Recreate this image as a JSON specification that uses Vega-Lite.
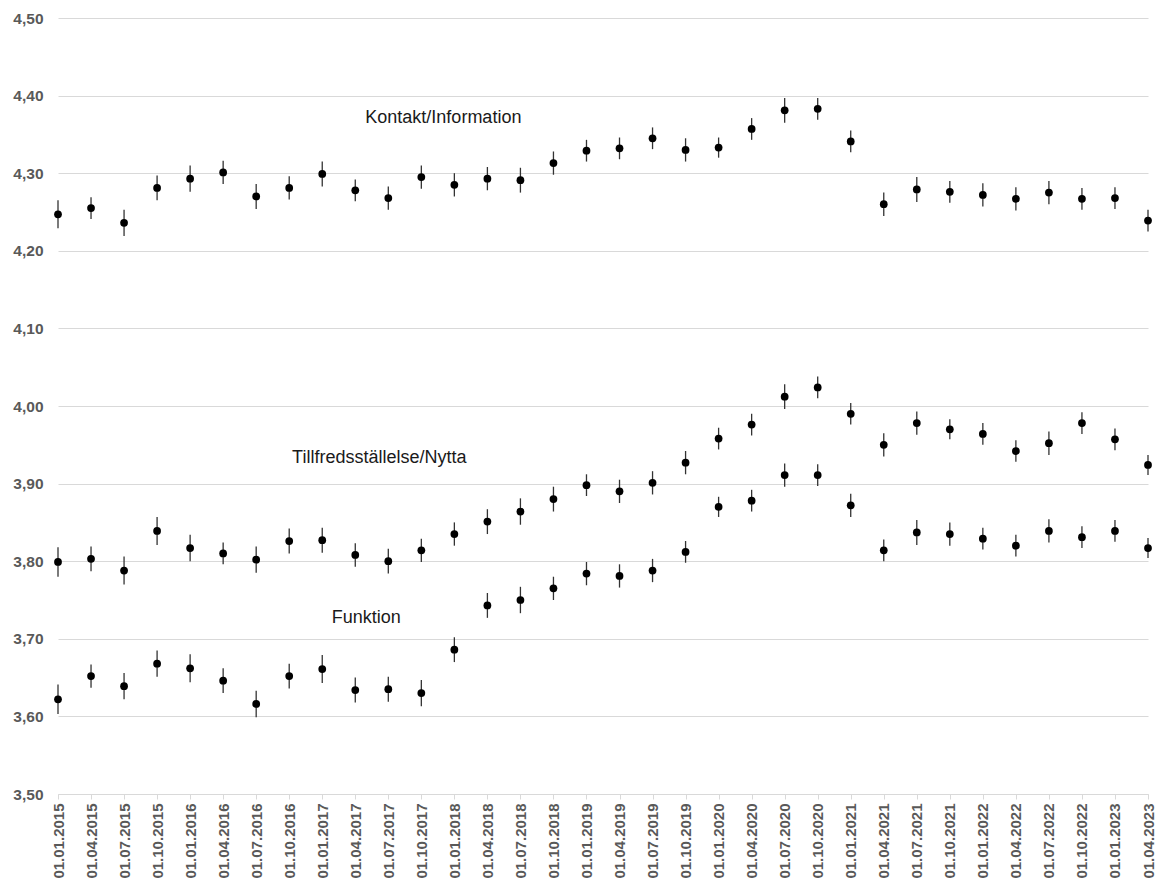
{
  "$schema": "https://vega.github.io/schema/vega-lite/v6.json",
  "width": 1090,
  "height": 776,
  "autosize": "none",
  "padding": {"left": 58, "top": 18, "right": 9, "bottom": 91},
  "background": "white",
  "config": {
    "view": {"stroke": null},
    "font": "Liberation Sans"
  },
  "datasets": {
    "points": [
      {"d": "01.01.2015", "s": "K", "v": 4.247, "e": 0.018},
      {"d": "01.04.2015", "s": "K", "v": 4.255, "e": 0.014},
      {"d": "01.07.2015", "s": "K", "v": 4.236, "e": 0.017},
      {"d": "01.10.2015", "s": "K", "v": 4.281, "e": 0.016},
      {"d": "01.01.2016", "s": "K", "v": 4.293, "e": 0.017},
      {"d": "01.04.2016", "s": "K", "v": 4.301, "e": 0.015},
      {"d": "01.07.2016", "s": "K", "v": 4.270, "e": 0.016},
      {"d": "01.10.2016", "s": "K", "v": 4.281, "e": 0.015},
      {"d": "01.01.2017", "s": "K", "v": 4.299, "e": 0.016},
      {"d": "01.04.2017", "s": "K", "v": 4.278, "e": 0.014},
      {"d": "01.07.2017", "s": "K", "v": 4.268, "e": 0.015},
      {"d": "01.10.2017", "s": "K", "v": 4.295, "e": 0.015},
      {"d": "01.01.2018", "s": "K", "v": 4.285, "e": 0.015},
      {"d": "01.04.2018", "s": "K", "v": 4.293, "e": 0.015},
      {"d": "01.07.2018", "s": "K", "v": 4.291, "e": 0.016},
      {"d": "01.10.2018", "s": "K", "v": 4.313, "e": 0.015},
      {"d": "01.01.2019", "s": "K", "v": 4.329, "e": 0.014},
      {"d": "01.04.2019", "s": "K", "v": 4.332, "e": 0.014},
      {"d": "01.07.2019", "s": "K", "v": 4.345, "e": 0.014},
      {"d": "01.10.2019", "s": "K", "v": 4.330, "e": 0.015},
      {"d": "01.01.2020", "s": "K", "v": 4.333, "e": 0.013},
      {"d": "01.04.2020", "s": "K", "v": 4.357, "e": 0.014},
      {"d": "01.07.2020", "s": "K", "v": 4.381, "e": 0.016},
      {"d": "01.10.2020", "s": "K", "v": 4.383, "e": 0.014},
      {"d": "01.01.2021", "s": "K", "v": 4.341, "e": 0.014},
      {"d": "01.04.2021", "s": "K", "v": 4.260, "e": 0.015},
      {"d": "01.07.2021", "s": "K", "v": 4.279, "e": 0.016},
      {"d": "01.10.2021", "s": "K", "v": 4.276, "e": 0.014},
      {"d": "01.01.2022", "s": "K", "v": 4.272, "e": 0.015},
      {"d": "01.04.2022", "s": "K", "v": 4.267, "e": 0.015},
      {"d": "01.07.2022", "s": "K", "v": 4.275, "e": 0.015},
      {"d": "01.10.2022", "s": "K", "v": 4.267, "e": 0.014},
      {"d": "01.01.2023", "s": "K", "v": 4.268, "e": 0.014},
      {"d": "01.04.2023", "s": "K", "v": 4.239, "e": 0.014},
      {"d": "01.01.2015", "s": "T", "v": 3.799, "e": 0.019},
      {"d": "01.04.2015", "s": "T", "v": 3.803, "e": 0.016},
      {"d": "01.07.2015", "s": "T", "v": 3.788, "e": 0.018},
      {"d": "01.10.2015", "s": "T", "v": 3.839, "e": 0.018},
      {"d": "01.01.2016", "s": "T", "v": 3.817, "e": 0.017},
      {"d": "01.04.2016", "s": "T", "v": 3.810, "e": 0.014},
      {"d": "01.07.2016", "s": "T", "v": 3.802, "e": 0.017},
      {"d": "01.10.2016", "s": "T", "v": 3.826, "e": 0.016},
      {"d": "01.01.2017", "s": "T", "v": 3.827, "e": 0.016},
      {"d": "01.04.2017", "s": "T", "v": 3.808, "e": 0.015},
      {"d": "01.07.2017", "s": "T", "v": 3.800, "e": 0.016},
      {"d": "01.10.2017", "s": "T", "v": 3.814, "e": 0.015},
      {"d": "01.01.2018", "s": "T", "v": 3.835, "e": 0.015},
      {"d": "01.04.2018", "s": "T", "v": 3.851, "e": 0.016},
      {"d": "01.07.2018", "s": "T", "v": 3.864, "e": 0.017},
      {"d": "01.10.2018", "s": "T", "v": 3.880, "e": 0.016},
      {"d": "01.01.2019", "s": "T", "v": 3.898, "e": 0.014},
      {"d": "01.04.2019", "s": "T", "v": 3.890, "e": 0.015},
      {"d": "01.07.2019", "s": "T", "v": 3.901, "e": 0.015},
      {"d": "01.10.2019", "s": "T", "v": 3.927, "e": 0.015},
      {"d": "01.01.2020", "s": "T", "v": 3.958, "e": 0.014},
      {"d": "01.04.2020", "s": "T", "v": 3.976, "e": 0.014},
      {"d": "01.07.2020", "s": "T", "v": 4.012, "e": 0.016},
      {"d": "01.10.2020", "s": "T", "v": 4.024, "e": 0.014},
      {"d": "01.01.2021", "s": "T", "v": 3.990, "e": 0.014},
      {"d": "01.04.2021", "s": "T", "v": 3.950, "e": 0.015},
      {"d": "01.07.2021", "s": "T", "v": 3.978, "e": 0.015},
      {"d": "01.10.2021", "s": "T", "v": 3.970, "e": 0.013},
      {"d": "01.01.2022", "s": "T", "v": 3.964, "e": 0.014},
      {"d": "01.04.2022", "s": "T", "v": 3.942, "e": 0.014},
      {"d": "01.07.2022", "s": "T", "v": 3.952, "e": 0.015},
      {"d": "01.10.2022", "s": "T", "v": 3.978, "e": 0.014},
      {"d": "01.01.2023", "s": "T", "v": 3.957, "e": 0.014},
      {"d": "01.04.2023", "s": "T", "v": 3.924, "e": 0.013},
      {"d": "01.01.2015", "s": "F", "v": 3.622, "e": 0.019},
      {"d": "01.04.2015", "s": "F", "v": 3.652, "e": 0.015},
      {"d": "01.07.2015", "s": "F", "v": 3.639, "e": 0.017},
      {"d": "01.10.2015", "s": "F", "v": 3.668, "e": 0.017},
      {"d": "01.01.2016", "s": "F", "v": 3.662, "e": 0.018},
      {"d": "01.04.2016", "s": "F", "v": 3.646, "e": 0.016},
      {"d": "01.07.2016", "s": "F", "v": 3.616, "e": 0.017},
      {"d": "01.10.2016", "s": "F", "v": 3.652, "e": 0.016},
      {"d": "01.01.2017", "s": "F", "v": 3.661, "e": 0.018},
      {"d": "01.04.2017", "s": "F", "v": 3.634, "e": 0.016},
      {"d": "01.07.2017", "s": "F", "v": 3.635, "e": 0.016},
      {"d": "01.10.2017", "s": "F", "v": 3.630, "e": 0.017},
      {"d": "01.01.2018", "s": "F", "v": 3.686, "e": 0.016},
      {"d": "01.04.2018", "s": "F", "v": 3.743, "e": 0.016},
      {"d": "01.07.2018", "s": "F", "v": 3.750, "e": 0.017},
      {"d": "01.10.2018", "s": "F", "v": 3.765, "e": 0.015},
      {"d": "01.01.2019", "s": "F", "v": 3.784, "e": 0.015},
      {"d": "01.04.2019", "s": "F", "v": 3.781, "e": 0.015},
      {"d": "01.07.2019", "s": "F", "v": 3.788, "e": 0.015},
      {"d": "01.10.2019", "s": "F", "v": 3.812, "e": 0.014},
      {"d": "01.01.2020", "s": "F", "v": 3.870, "e": 0.013},
      {"d": "01.04.2020", "s": "F", "v": 3.878, "e": 0.014},
      {"d": "01.07.2020", "s": "F", "v": 3.911, "e": 0.015},
      {"d": "01.10.2020", "s": "F", "v": 3.911, "e": 0.014},
      {"d": "01.01.2021", "s": "F", "v": 3.872, "e": 0.015},
      {"d": "01.04.2021", "s": "F", "v": 3.814, "e": 0.014},
      {"d": "01.07.2021", "s": "F", "v": 3.837, "e": 0.016},
      {"d": "01.10.2021", "s": "F", "v": 3.835, "e": 0.015},
      {"d": "01.01.2022", "s": "F", "v": 3.829, "e": 0.014},
      {"d": "01.04.2022", "s": "F", "v": 3.820, "e": 0.014},
      {"d": "01.07.2022", "s": "F", "v": 3.839, "e": 0.015},
      {"d": "01.10.2022", "s": "F", "v": 3.831, "e": 0.014},
      {"d": "01.01.2023", "s": "F", "v": 3.839, "e": 0.014},
      {"d": "01.04.2023", "s": "F", "v": 3.817, "e": 0.013}
    ]
  },
  "encoding": {
    "x": {
      "field": "d",
      "type": "ordinal",
      "scale": {
        "type": "point",
        "padding": 0,
        "domain": ["01.01.2015","01.04.2015","01.07.2015","01.10.2015","01.01.2016","01.04.2016","01.07.2016","01.10.2016","01.01.2017","01.04.2017","01.07.2017","01.10.2017","01.01.2018","01.04.2018","01.07.2018","01.10.2018","01.01.2019","01.04.2019","01.07.2019","01.10.2019","01.01.2020","01.04.2020","01.07.2020","01.10.2020","01.01.2021","01.04.2021","01.07.2021","01.10.2021","01.01.2022","01.04.2022","01.07.2022","01.10.2022","01.01.2023","01.04.2023"]
      },
      "axis": {
        "title": null,
        "labelAngle": -90,
        "labelAlign": "right",
        "labelBaseline": "middle",
        "labelFont": "Liberation Sans",
        "labelFontWeight": "bold",
        "labelFontSize": 15,
        "labelColor": "#595959",
        "labelPadding": 4,
        "tickSize": 5,
        "tickColor": "#d9d9d9",
        "domainColor": "#d9d9d9",
        "domainWidth": 1,
        "grid": false,
        "labelOverlap": false
      }
    }
  },
  "layer": [
    {
      "data": {"name": "points"},
      "mark": {"type": "errorbar", "ticks": false, "color": "#333333", "thickness": 1.3},
      "encoding": {
        "y": {
          "field": "v",
          "type": "quantitative",
          "scale": {"domain": [3.5, 4.5], "zero": false, "nice": false},
          "axis": {
            "title": null,
            "values": [3.5, 3.6, 3.7, 3.8, 3.9, 4.0, 4.1, 4.2, 4.3, 4.4, 4.5],
            "labelExpr": "replace(format(datum.value, '.2f'), '.', ',')",
            "labelFont": "Liberation Sans",
            "labelFontWeight": "bold",
            "labelFontSize": 15.5,
            "labelColor": "#595959",
            "labelPadding": 15,
            "ticks": false,
            "domain": false,
            "grid": true,
            "gridColor": "#d9d9d9",
            "gridWidth": 1
          }
        },
        "yError": {"field": "e"}
      }
    },
    {
      "data": {"name": "points"},
      "mark": {"type": "circle", "size": 60, "color": "#000000", "opacity": 1},
      "encoding": {
        "y": {"field": "v", "type": "quantitative"}
      }
    },
    {
      "data": {"values": [{"d": "01.01.2018", "v": 4.371, "t": "Kontakt/Information"}]},
      "mark": {"type": "text", "font": "Liberation Sans", "fontSize": 18, "color": "#1a1a1a", "align": "center", "baseline": "middle", "dx": -11},
      "encoding": {
        "y": {"field": "v", "type": "quantitative"},
        "text": {"field": "t"}
      }
    },
    {
      "data": {"values": [{"d": "01.07.2017", "v": 3.933, "t": "Tillfredsställelse/Nytta"}]},
      "mark": {"type": "text", "font": "Liberation Sans", "fontSize": 18, "color": "#1a1a1a", "align": "center", "baseline": "middle", "dx": -9},
      "encoding": {
        "y": {"field": "v", "type": "quantitative"},
        "text": {"field": "t"}
      }
    },
    {
      "data": {"values": [{"d": "01.04.2017", "v": 3.727, "t": "Funktion"}]},
      "mark": {"type": "text", "font": "Liberation Sans", "fontSize": 18, "color": "#1a1a1a", "align": "center", "baseline": "middle", "dx": 11},
      "encoding": {
        "y": {"field": "v", "type": "quantitative"},
        "text": {"field": "t"}
      }
    }
  ]
}
